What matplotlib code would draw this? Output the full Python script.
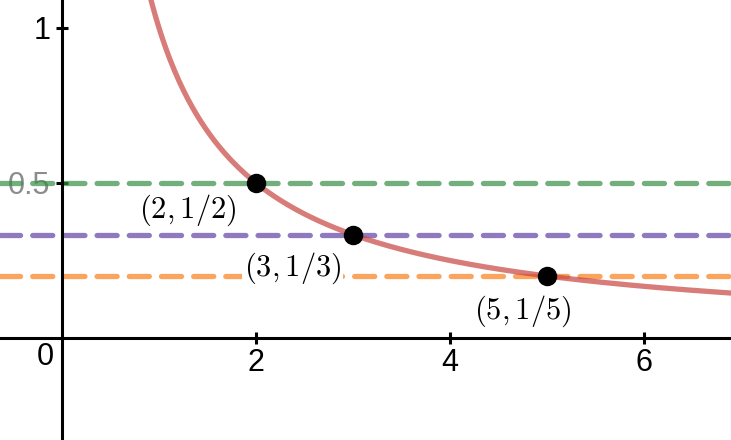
import numpy as np
import matplotlib
matplotlib.use('Agg')
import matplotlib.pyplot as plt

plt.rcParams['mathtext.fontset'] = 'cm'
plt.rcParams['font.family'] = ['Liberation Sans', 'DejaVu Sans']

# data
pts_x = [2, 3, 5]
pts_y = [1/2, 1/3, 1/5]
pt_labels = [r'$(2,1/2)$', r'$(3,1/3)$', r'$(5,1/5)$']
label_pos = [(1.30, 0.413), (2.38, 0.226), (4.75, 0.087)]
hline_y = [1/2, 1/3, 1/5]
hline_colors = ['#388c46', '#6042a6', '#fa7e19']
xticks = [2, 4, 6]
yticks = [0.5, 1]

fig = plt.figure(figsize=(7.31, 4.40), dpi=100)
ax = fig.add_axes([0, 0, 1, 1])
ax.set_xlim(-0.64, 6.90)
ax.set_ylim(-0.329, 1.09)

# curve y = 1/x
xs = np.linspace(0.9, 7.0, 400)
ax.plot(xs, 1 / xs, color='#c74440', alpha=0.7, lw=3.8, zorder=3,
        solid_capstyle='round')

# dashed horizontal lines
for y, c in zip(hline_y, hline_colors):
    ax.axhline(y, color=c, alpha=0.7, lw=3.8, ls=(0, (3.8, 2.3)),
               dash_capstyle='round', zorder=2)

# axes through origin
for s in ['top', 'right']:
    ax.spines[s].set_visible(False)
ax.spines['left'].set_position(('data', 0))
ax.spines['bottom'].set_position(('data', 0))
ax.spines['left'].set_linewidth(2.2)
ax.spines['bottom'].set_linewidth(2.2)
ax.set_xticks(xticks)
ax.set_yticks(yticks)
ax.set_xticklabels([str(t) for t in xticks])
ax.set_yticklabels(['0.5', '1'])
ax.tick_params(direction='inout', length=9, width=2.2, labelsize=22,
               colors='black')
ax.tick_params(axis='x', pad=3)
ax.tick_params(axis='y', pad=4)
ax.get_yticklabels()[0].set_color('#8c8c8c')
ax.text(-0.175, -0.061, '0', fontsize=22, ha='center', va='center')

# points
ax.plot(pts_x, pts_y, 'o', color='black', ms=13, zorder=5)

for (lx, ly), lab in zip(label_pos, pt_labels):
    ax.text(lx, ly, lab, fontsize=22, ha='center', va='center', zorder=4,
            bbox=dict(facecolor='white', edgecolor='none', pad=1))

plt.savefig('out.png', dpi=100)
